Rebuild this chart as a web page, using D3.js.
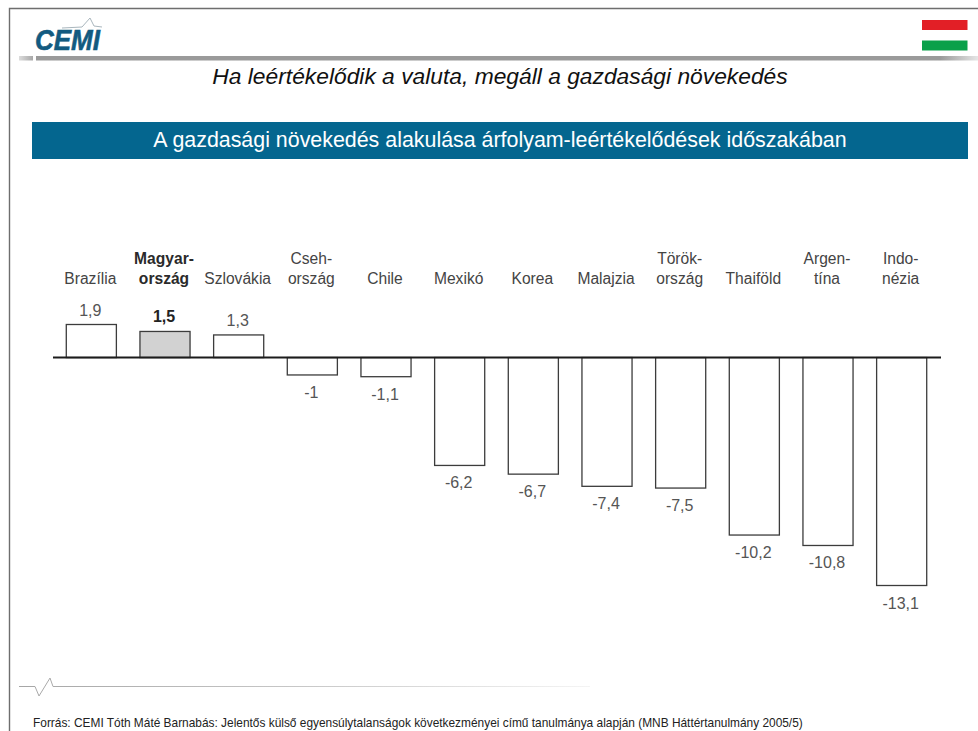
<!DOCTYPE html>
<html lang="hu">
<head>
<meta charset="utf-8">
<style>
html,body{margin:0;padding:0;background:#fff;}
svg{display:block;}
text{font-family:"Liberation Sans",Arial,sans-serif;}
</style>
<script src="https://cdn.jsdelivr.net/npm/d3@7"></script>
</head>
<body>
<svg id="chart" width="978" height="731"></svg>
<script>
// Growth during currency devaluation episodes, per country
const countryLines = [
  ["Brazília"], ["Magyar-", "ország"], ["Szlovákia"], ["Cseh-", "ország"],
  ["Chile"], ["Mexikó"], ["Korea"], ["Malajzia"],
  ["Török-", "ország"], ["Thaiföld"], ["Argen-", "tína"], ["Indo-", "nézia"]
];
const growthValues = [1.9, 1.5, 1.3, -1, -1.1, -6.2, -6.7, -7.4, -7.5, -10.2, -10.8, -13.1];
const highlighted = "Magyar-";

const pageTitle = "Ha leértékelődik a valuta, megáll a gazdasági növekedés";
const bannerTitle = "A gazdasági növekedés alakulása árfolyam-leértékelődések időszakában";
const sourceNote = "Forrás: CEMI Tóth Máté Barnabás: Jelentős külső egyensúlytalanságok következményei című tanulmánya alapján (MNB Háttértanulmány 2005/5)";

const svg = d3.select("#chart");
const fmt = v => String(v).replace(".", ",");
const keys = countryLines.map(l => l[0]);

const x = d3.scaleBand().domain(keys).range([54.5, 938.5]).paddingInner(0.32).paddingOuter(0.16);
const y = d3.scaleLinear().domain([-13.1, 1.9]).range([585.5, 324.5]);

// Page frame
svg.append("path").attr("d", "M9.5,731V8.5H978").attr("fill", "none").attr("stroke", "#6e6e6e").attr("stroke-width", 1.4);

// Header rule: a short faded stub, a small gap, then the long bar
const defs = svg.append("defs");
const stubGrad = defs.append("linearGradient").attr("id", "ruleStub");
stubGrad.selectAll("stop").data([[0, "#dcdcdc"], [1, "#a8a8a8"]])
  .join("stop").attr("offset", d => d[0]).attr("stop-color", d => d[1]);
const barGrad = defs.append("linearGradient").attr("id", "ruleBar");
barGrad.selectAll("stop").data([[0, "#9a9a9a"], [0.96, "#9a9a9a"], [1, "#e6e6e6"]])
  .join("stop").attr("offset", d => d[0]).attr("stop-color", d => d[1]);
svg.append("rect").attr("x", 19).attr("y", 56).attr("width", 14).attr("height", 4.5).attr("fill", "url(#ruleStub)");
svg.append("rect").attr("x", 36).attr("y", 56).attr("width", 942).attr("height", 4.5).attr("fill", "url(#ruleBar)");

// Footer rule fades out towards the right
const footGrad = defs.append("linearGradient").attr("id", "ruleFoot")
  .attr("gradientUnits", "userSpaceOnUse").attr("x1", 19).attr("x2", 590).attr("y1", 0).attr("y2", 0);
footGrad.selectAll("stop").data([[0, "#a6a6a6"], [0.5, "#c8c8c8"], [1, "#f4f4f4"]])
  .join("stop").attr("offset", d => d[0]).attr("stop-color", d => d[1]);

// Logo
svg.append("path").attr("d", "M62,28L82,27L90,18L94,26L102,27").attr("fill", "none").attr("stroke", "#a9b6bd").attr("stroke-width", 1);
svg.append("text").attr("x", 35).attr("y", 49.5).attr("font-size", 29).attr("font-weight", "bold").attr("font-style", "italic")
  .attr("fill", "#125a80").attr("stroke", "#125a80").attr("stroke-width", 0.6)
  .attr("textLength", 65).attr("lengthAdjust", "spacingAndGlyphs").text("CEMI");

// Flag stripes
svg.append("rect").attr("x", 922).attr("y", 20).attr("width", 45.5).attr("height", 10).attr("fill", "#e21f26");
svg.append("rect").attr("x", 922).attr("y", 40.5).attr("width", 45.5).attr("height", 10).attr("fill", "#0aa04a");

// Titles
svg.append("text").attr("x", 500).attr("y", 84).attr("text-anchor", "middle").attr("font-size", 22.8).attr("font-style", "italic")
  .attr("fill", "#111").text(pageTitle);
svg.append("rect").attr("x", 32).attr("y", 122).attr("width", 936).attr("height", 37).attr("fill", "#04668f");
svg.append("text").attr("x", 500).attr("y", 147).attr("text-anchor", "middle").attr("font-size", 21.4)
  .attr("fill", "#fff").text(bannerTitle);

// Bars
svg.append("g").selectAll("rect").data(growthValues).join("rect")
  .attr("x", (d, i) => x(keys[i]))
  .attr("y", d => Math.min(y(d), y(0)))
  .attr("width", x.bandwidth())
  .attr("height", d => Math.abs(y(d) - y(0)))
  .attr("fill", (d, i) => keys[i] === highlighted ? "#d2d2d2" : "#fff")
  .attr("stroke", "#3c3c3c").attr("stroke-width", 1.3);

// Zero line
svg.append("line").attr("x1", 53).attr("x2", 941).attr("y1", y(0)).attr("y2", y(0))
  .attr("stroke", "#1c1c1c").attr("stroke-width", 2);

// Value labels
svg.append("g").selectAll("text").data(growthValues).join("text")
  .attr("x", (d, i) => x(keys[i]) + x.bandwidth() / 2 - 1)
  .attr("y", d => d >= 0 ? y(d) - 9 : y(d) + 23)
  .attr("text-anchor", "middle").attr("font-size", 16)
  .attr("font-weight", (d, i) => keys[i] === highlighted ? "bold" : "normal")
  .attr("fill", (d, i) => keys[i] === highlighted ? "#222" : "#555")
  .text(fmt);

// Country labels, bottom-aligned on the same baseline
const labels = svg.append("g").selectAll("text").data(countryLines).join("text")
  .attr("text-anchor", "middle").attr("font-size", 15.6)
  .attr("font-weight", (d, i) => keys[i] === highlighted ? "bold" : "normal")
  .attr("fill", (d, i) => keys[i] === highlighted ? "#2a2a2a" : "#444");
labels.each(function (lines, i) {
  const cx = x(keys[i]) + x.bandwidth() / 2 - 1;
  d3.select(this).selectAll("tspan").data(lines).join("tspan")
    .attr("x", cx)
    .attr("y", (t, j) => 284 - (lines.length - 1 - j) * 20)
    .text(t => t);
});

// Footer rule with a small pulse mark
svg.append("path").attr("d", "M19,686.5H35L39,696L50,678L53,686.5H590").attr("fill", "none").attr("stroke", "url(#ruleFoot)").attr("stroke-width", 1);
svg.append("text").attr("x", 33).attr("y", 727).attr("font-size", 11.9).attr("fill", "#222").text(sourceNote);
</script>
</body>
</html>
